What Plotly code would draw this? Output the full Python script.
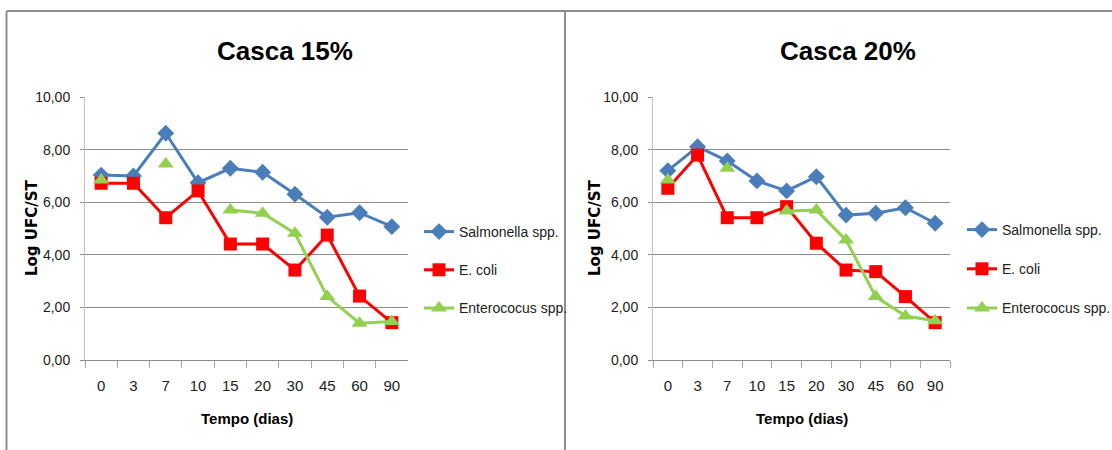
import plotly.graph_objects as go

# ---- data ----
dias = ["0", "3", "7", "10", "15", "20", "30", "45", "60", "90"]
salm_15 = [7.03, 7.00, 8.62, 6.74, 7.29, 7.14, 6.30, 5.43, 5.60, 5.07]
ecoli_15 = [6.72, 6.72, 5.41, 6.43, 4.41, 4.41, 3.42, 4.75, 2.43, 1.42]
entero_15 = [6.84, None, 7.45, None, 5.70, 5.58, 4.82, 2.41, 1.40, 1.46]
salm_20 = [7.20, 8.11, 7.57, 6.81, 6.43, 6.97, 5.51, 5.58, 5.79, 5.20]
ecoli_20 = [6.53, 7.79, 5.41, 5.41, 5.83, 4.44, 3.42, 3.36, 2.41, 1.42]
entero_20 = [6.84, None, 7.29, None, 5.67, 5.70, 4.56, 2.41, 1.67, 1.49]
series_names = ["Salmonella spp.", "E. coli", "Enterococus spp."]
titles = ["Casca 15%", "Casca 20%"]

W, H = 1112, 450
NARROW = "Noto Sans Condensed, Liberation Sans Narrow, Liberation Sans, sans-serif"
BLUE, RED, GREEN = "#4A7EBB", "#FF0000", "#92D050"

def px(x):
    return x / W

def py(y):
    return 1 - y / H

fig = go.Figure()

styles = [
    dict(color=BLUE, symbol="diamond", size=13),
    dict(color=RED, symbol="square", size=13),
    dict(color=GREEN, symbol="triangle-up", size=14),
]

panels = [
    ([salm_15, ecoli_15, entero_15], "x", "y", "legend"),
    ([salm_20, ecoli_20, entero_20], "x2", "y2", "legend2"),
]
for vals, xa, ya, lg in panels:
    for name, v, st in zip(series_names, vals, styles):
        fig.add_trace(go.Scatter(
            x=dias, y=v, name=name, mode="lines+markers",
            xaxis=xa, yaxis=ya, legend=lg, legendgroup=lg + name,
            line=dict(color=st["color"], width=3),
            marker=dict(color=st["color"], symbol=st["symbol"], size=st["size"]),
            connectgaps=False,
        ))

plot_x = [(85, 408), (653, 950)]
top, bottom = 97, 360

axis_common = dict(
    type="category", categoryorder="array", categoryarray=dias,
    range=[-0.5, len(dias) - 0.5], autorange=False,
    showgrid=False, showline=True, linecolor="#8c8c8c", linewidth=1,
    ticks="outside", tickson="boundaries", ticklen=7, tickcolor="#a6a6a6",
    tickfont=dict(family=NARROW, size=15, color="#222"),
    ticklabelstandoff=12, fixedrange=True, automargin=False,
)
yaxis_common = dict(
    range=[0, 10], autorange=False, dtick=2, tickformat=".2f",
    showgrid=True, gridcolor="#8c8c8c", gridwidth=1,
    showline=True, linecolor="#c4c4c4", linewidth=1,
    ticks="outside", ticklen=4, tickcolor="#8c8c8c",
    tickfont=dict(family=NARROW, size=14, color="#222"),
    ticklabelstandoff=7, zeroline=False, fixedrange=True, automargin=False,
)

fig.update_layout(
    width=W, height=H,
    margin=dict(l=0, r=0, t=0, b=0, pad=0, autoexpand=False),
    paper_bgcolor="white", plot_bgcolor="white",
    separators=",.",
    xaxis=dict(domain=[px(plot_x[0][0]), px(plot_x[0][1])], anchor="y", **axis_common),
    yaxis=dict(domain=[py(bottom), py(top)], anchor="x", **yaxis_common),
    xaxis2=dict(domain=[px(plot_x[1][0]), px(plot_x[1][1])], anchor="y2", **axis_common),
    yaxis2=dict(domain=[py(bottom), py(top)], anchor="x2", **yaxis_common),
    legend=dict(x=px(419), y=py(216), xanchor="left", yanchor="top",
                font=dict(family=NARROW, size=14, color="#222"),
                tracegroupgap=17, bgcolor="rgba(0,0,0,0)"),
    legend2=dict(x=px(962), y=py(214), xanchor="left", yanchor="top",
                 font=dict(family=NARROW, size=14, color="#222"),
                 tracegroupgap=18, bgcolor="rgba(0,0,0,0)"),
    showlegend=True,
)

# panel borders
border = dict(color="#8f8f8f", width=2)
shapes = [
    dict(type="line", xref="paper", yref="paper", x0=px(6.5), x1=1.0, y0=py(11), y1=py(11), line=border),
    dict(type="line", xref="paper", yref="paper", x0=px(6.5), x1=px(6.5), y0=py(11), y1=0, line=border),
    dict(type="line", xref="paper", yref="paper", x0=px(565), x1=px(565), y0=py(11), y1=0, line=border),
]
fig.update_layout(shapes=shapes)

# titles and axis titles
ann = []
for (x0, x1), t, tx, ylx in zip(plot_x, titles, [285, 848], [32, 595]):
    ann.append(dict(text=f"<b>{t}</b>", x=px(tx), y=py(51), xref="paper", yref="paper",
                    showarrow=False, xanchor="center", yanchor="middle",
                    font=dict(family=NARROW, size=26, color="black")))
    ann.append(dict(text="<b>Tempo (dias)</b>", x=px((x0 + x1) / 2), y=py(418), xref="paper", yref="paper",
                    showarrow=False, xanchor="center", yanchor="middle",
                    font=dict(family=NARROW, size=15, color="black")))
    ann.append(dict(text="<b>Log UFC/ST</b>", x=px(ylx), y=py(228), xref="paper", yref="paper",
                    showarrow=False, xanchor="center", yanchor="middle", textangle=-90,
                    font=dict(family="DejaVu Sans", size=15, color="black")))
fig.update_layout(annotations=ann)

fig.write_html(
    "out.html",
    config={"displayModeBar": False},
    post_script="document.body.style.margin='0';document.body.style.overflow='hidden';",
)
